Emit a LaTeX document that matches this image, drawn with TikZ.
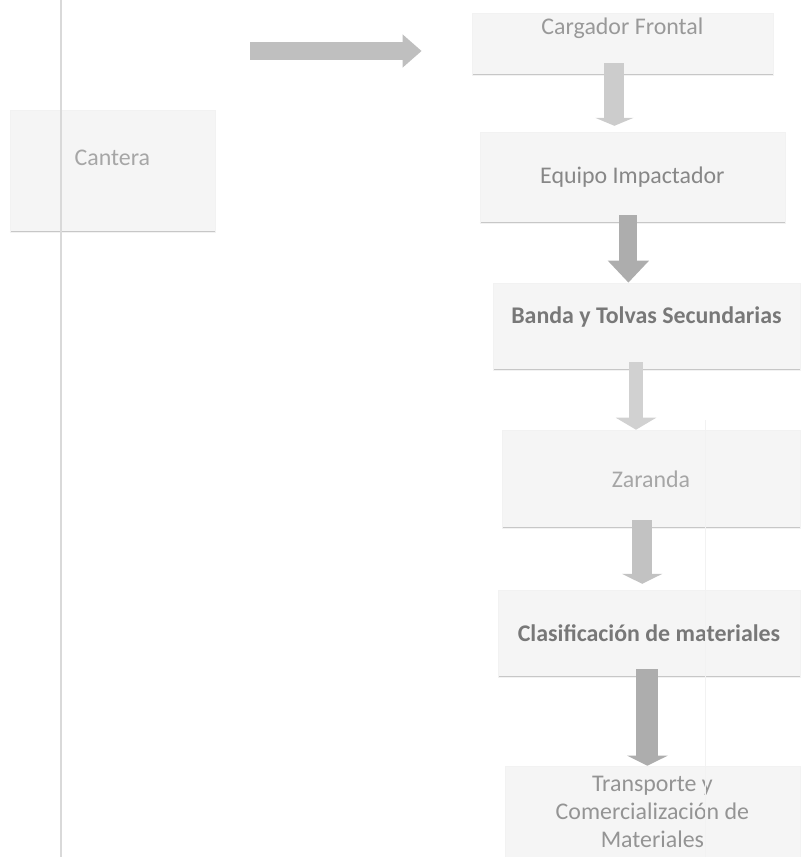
\documentclass[tikz,border=0pt]{standalone}
\usepackage{fontspec}
\setmainfont{Carlito}
\usepackage{tikz}
\usetikzlibrary{arrows.meta,positioning,calc}

\begin{document}
\begin{tikzpicture}[font=\fontsize{17}{20}\selectfont,
   etapa/.style={fill=black!4,draw=black!5,inner sep=2pt,align=center,
     path picture={\draw[black!22,line width=1.6pt]
       (path picture bounding box.south west) -- (path picture bounding box.south east);}},
   flecha/.style={black!25,line cap=butt}]
  \useasboundingbox (0,0) rectangle (20.05,-21.425);
  % stages of the process
  \node[etapa,minimum width=5.125cm,minimum height=3.05cm,text depth=0.67cm,text=black!35] (Cantera) at (2.81,-4.275) {Cantera};
  \node[etapa,minimum width=7.525cm,minimum height=1.55cm,text depth=0.9cm,text=black!40] (Cargador) at (15.56,-1.1) {Cargador Frontal};
  \node[etapa,minimum width=7.625cm,minimum height=2.275cm,text=black!47] (Equipo) at (15.81,-4.44) {Equipo Impactador};
  \node[etapa,minimum width=7.675cm,minimum height=2.175cm,text depth=0.57cm,text=black!53,font=\fontsize{17}{20}\selectfont\bfseries] (Banda) at (16.16,-8.16) {Banda y Tolvas Secundarias};
  \node[etapa,minimum width=7.45cm,minimum height=2.45cm,text=black!35] (Zaranda) at (16.275,-11.975) {Zaranda};
  \node[etapa,minimum width=7.55cm,minimum height=2.175cm,text=black!53,font=\fontsize{17}{20}\selectfont\bfseries] (Clasif) at (16.225,-15.84) {Clasificación de materiales};
  \node[etapa,minimum width=7.375cm,minimum height=2.3cm,text=black!42,font=\fontsize{17}{19.8}\selectfont] (Transporte) at (16.31,-20.3) {Transporte y\\Comercialización de\\Materiales};
  % margin lines of the scanned page
  \draw[black!15,line width=1.4pt] (1.525,0) -- (1.525,-21.425);
  \draw[black!5,line width=0.6pt] (17.625,-10.5) -- (17.625,-21.425);
  % block arrows
  \draw[flecha,line width=0.45cm,-{Triangle[length=0.475cm,width=0.8cm]}]
    ($(Cantera.east |- Cargador.west)+(0.875,-0.175)$) -- ($(Cargador.west)+(-1.25,-0.175)$);
  \draw[flecha,black!20,line width=0.5cm,-{Triangle[length=0.2cm,width=0.95cm]}]
    ([xshift=-2mm,yshift=3mm]Cargador.south) -- ([xshift=-2mm,yshift=1.5mm]Cargador.south |- Equipo.north);
  \draw[flecha,black!32,line width=0.45cm,-{Triangle[length=0.55cm,width=1cm]}]
    ([xshift=-1mm,yshift=2mm]Equipo.south) -- ([xshift=-1mm]Equipo.south |- Banda.north);
  \draw[flecha,black!18,line width=0.35cm,-{Triangle[length=0.3cm,width=1cm]}]
    ([xshift=-2.6mm,yshift=2mm]Banda.south) -- ([xshift=-2.6mm]Banda.south |- Zaranda.north);
  \draw[flecha,black!24,line width=0.5cm,-{Triangle[length=0.25cm,width=1cm]}]
    ([xshift=-2.2mm,yshift=2mm]Zaranda.south) -- ([xshift=-2.2mm,yshift=1.5mm]Zaranda.south |- Clasif.north);
  \draw[flecha,black!32,line width=0.55cm,-{Triangle[length=0.25cm,width=1cm]}]
    ([xshift=-0.4mm,yshift=2mm]Clasif.south) -- ([xshift=-0.4mm]Clasif.south |- Transporte.north);
\end{tikzpicture}
\end{document}
